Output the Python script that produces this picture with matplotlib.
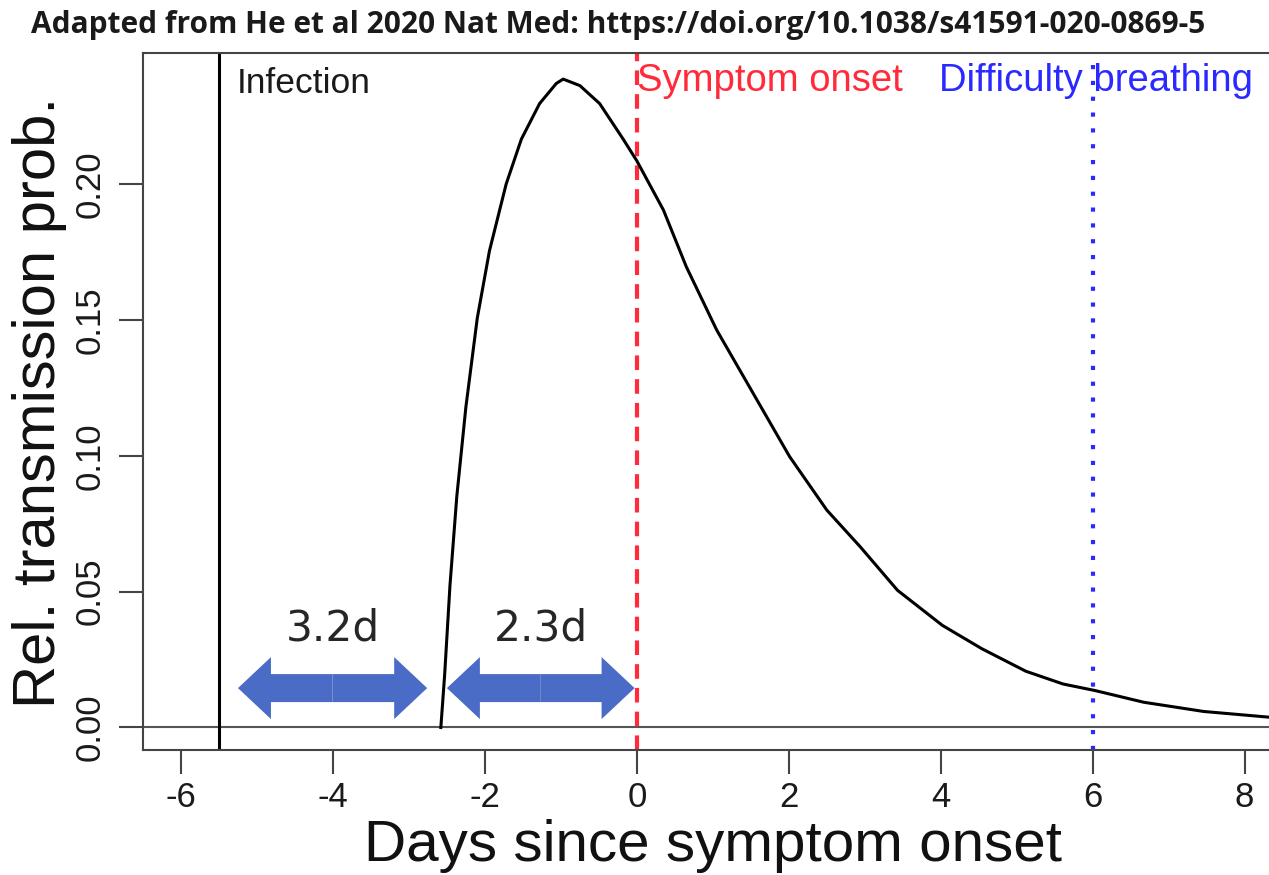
import matplotlib.pyplot as plt
import matplotlib.patches as mpatches

# curve (days since onset, relative transmission prob.)
days = [-2.58, -2.53, -2.46, -2.37, -2.25, -2.10, -1.94, -1.72, -1.52, -1.28,
        -1.06, -0.97, -0.75, -0.49, -0.18, 0.0, 0.35, 0.65, 1.05, 1.53,
        2.01, 2.50, 2.94, 3.43, 4.02, 4.54, 5.12, 5.61, 6.03,
        6.67, 7.46, 8.36]
trans_prob = [0.0, 0.0193, 0.0522, 0.085, 0.118, 0.1507, 0.1754, 0.200, 0.2165, 0.2296,
              0.237, 0.2386, 0.2362, 0.2296, 0.2165, 0.2085, 0.1904, 0.1696, 0.1463, 0.1230,
              0.0997, 0.0800, 0.0665, 0.0505, 0.0376, 0.0290, 0.0207, 0.0160, 0.0136,
              0.0093, 0.0059, 0.0037]

infection_day = -5.5
onset_day = 0
breathing_day = 6

arrow_from = [-5.25, -2.50]
arrow_to = [-2.76, -0.03]
arrow_labels = ['3.2d', '2.3d']

x_ticks = [-6, -4, -2, 0, 2, 4, 6, 8]
y_ticks = [0.0, 0.05, 0.10, 0.15, 0.20]
y_tick_labels = ['0.00', '0.05', '0.10', '0.15', '0.20']

W, H = 1269, 875
fig = plt.figure(figsize=(W / 100, H / 100), dpi=100)
ax = fig.add_axes([143 / W, 125 / H, 1126 / W, 697 / H])
ax.set_xlim(-6.5, 8.32)
ax.set_ylim(-0.00828, 0.2482)

for s in ['top', 'left', 'bottom']:
    ax.spines[s].set_color('#444444')
    ax.spines[s].set_linewidth(1.5)
ax.spines['right'].set_visible(False)

ax.axhline(0, color='#555555', lw=1.5)
ax.axvline(infection_day, color='black', lw=2.2)
ax.axvline(onset_day, color='#ff2a3a', lw=3, dashes=(3.5, 2.2))
ax.axvline(breathing_day, color='#2a2aff', lw=3, dashes=(1, 2.8))
ax.plot(days, trans_prob, color='black', lw=2.2)

# fat double headed arrows
arrow_y = 0.0145
for a, b, lab in zip(arrow_from, arrow_to, arrow_labels):
    mid = (a + b) / 2
    for end in (a, b):
        ax.add_patch(mpatches.FancyArrow(mid, arrow_y, end - mid, 0, width=0.0103,
                                         head_width=0.0228, head_length=0.434,
                                         length_includes_head=True,
                                         color='#4a6bc6', lw=0))
    ax.text(mid, 0.0366, lab, ha='center', va='center', fontsize=30.5,
            family='DejaVu Sans', color='#262626')

ax.text(-5.27, 0.2335, 'Infection', ha='left', va='baseline', fontsize=25.5,
        family='Liberation Sans', color='#1a1a1a')
ax.text(0.0, 0.2342, 'Symptom onset', ha='left', va='baseline', fontsize=27.5,
        family='Liberation Sans', color='#ff2a3a')
ax.text(3.98, 0.2342, 'Difficulty breathing', ha='left', va='baseline', fontsize=27.5,
        family='Liberation Sans', color='#2a2aff')

ax.set_xticks(x_ticks)
ax.set_xticklabels([str(t) for t in x_ticks], family='Liberation Sans')
ax.set_yticks(y_ticks)
ax.set_yticklabels(y_tick_labels, rotation=90, va='center', family='Liberation Sans')
ax.tick_params(direction='out', length=17, width=1.5, color='#444444',
               labelsize=25, labelcolor='#1a1a1a')
ax.tick_params(axis='x', pad=5)
ax.tick_params(axis='y', pad=9)

fig.text(713 / W, 1 - 861 / H, 'Days since symptom onset', ha='center', va='baseline',
         fontsize=42, family='Liberation Sans', color='#111111')
fig.text(55 / W, 1 - 402 / H, 'Rel. transmission prob.', ha='center', va='baseline',
         rotation=90, rotation_mode='anchor', fontsize=43, family='Liberation Sans',
         color='#111111')
fig.text(31 / W, 1 - 33 / H,
         'Adapted from He et al 2020 Nat Med: https://doi.org/10.1038/s41591-020-0869-5',
         ha='left', va='baseline', fontsize=21.5, family='Open Sans', weight='bold',
         color='#1a1a1a')

fig.savefig('out.png', dpi=100)
